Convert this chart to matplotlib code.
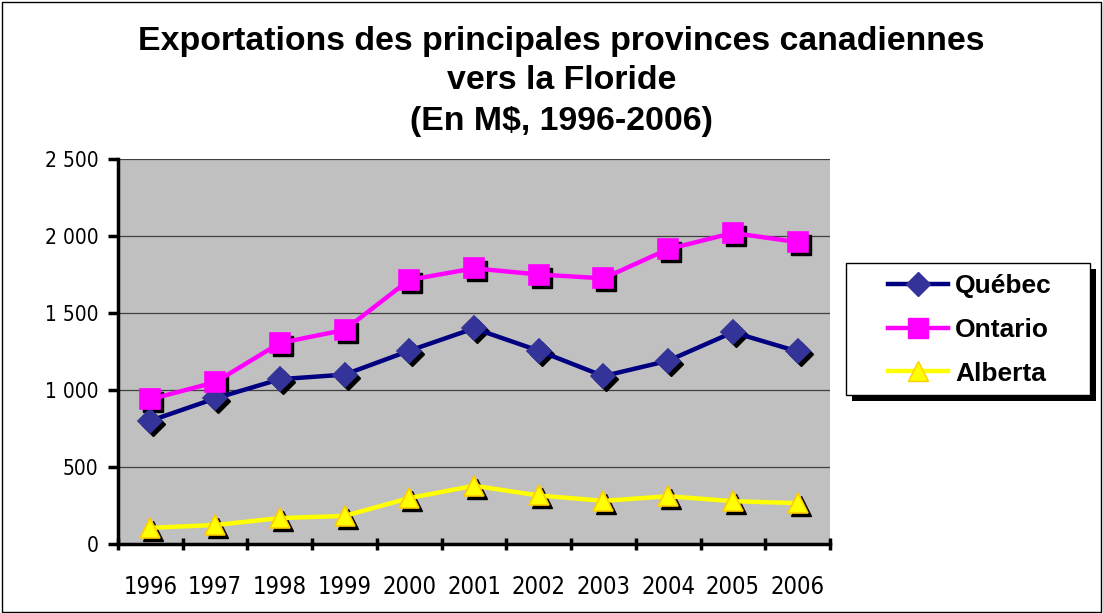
import numpy as np
import matplotlib
matplotlib.use("Agg")
import matplotlib.pyplot as plt
import matplotlib.transforms as mtransforms
from matplotlib.patches import Rectangle
from matplotlib.ticker import FuncFormatter

annees = ['1996', '1997', '1998', '1999', '2000', '2001', '2002', '2003', '2004', '2005', '2006']
quebec = [800, 945, 1070, 1100, 1255, 1400, 1255, 1090, 1190, 1375, 1250]
ontario = [940, 1050, 1305, 1390, 1715, 1790, 1750, 1725, 1915, 2020, 1960]
alberta = [105, 123, 168, 182, 298, 378, 315, 280, 310, 278, 265]
graduations = [0, 500, 1000, 1500, 2000, 2500]
titre = ['Exportations des principales provinces canadiennes', 'vers la Floride', '(En M$, 1996-2006)']

fig = plt.figure(figsize=(11.03, 6.13), dpi=100)
ax = fig.add_axes([0.107, 0.1126, 0.6455, 0.628])
ax.set_facecolor('#C0C0C0')

x = np.arange(len(annees))
ombre = mtransforms.offset_copy(ax.transData, fig=fig, x=3, y=-3, units='dots')

series = [
    ('Québec', quebec, '#000080', '#333399', '#333399', 'D', 12.5),
    ('Ontario', ontario, '#FF00FF', '#FF00FF', '#FF00FF', 's', 15),
    ('Alberta', alberta, '#FFFF00', '#FFFF00', '#FFCC00', '^', 14),
]

# ombres des marqueurs
for nom, vals, c_ligne, c_fond, c_bord, mk, ms in series:
    ax.plot(x, vals, linestyle='none', marker=mk, markersize=ms,
            markerfacecolor='black', markeredgecolor='black', transform=ombre, zorder=3)

for nom, vals, c_ligne, c_fond, c_bord, mk, ms in series:
    ax.plot(x, vals, color=c_ligne, linewidth=3.2, zorder=4)
    ax.plot(x, vals, linestyle='none', marker=mk, markersize=ms,
            markerfacecolor=c_fond, markeredgecolor=c_bord, markeredgewidth=1.2, zorder=5)

# cadre de la legende + ombre
fig.patches.append(Rectangle((852 / 1103, 1 - 401 / 613), 244 / 1103, 132 / 613,
                             transform=fig.transFigure, facecolor='black', edgecolor='none'))
fig.patches.append(Rectangle((846 / 1103, 1 - 395 / 613), 244 / 1103, 132 / 613,
                             transform=fig.transFigure, facecolor='white', edgecolor='black',
                             linewidth=1))

poignees = []
for nom, vals, c_ligne, c_fond, c_bord, mk, ms in series:
    h, = ax.plot([], [], color=c_ligne, linewidth=3.2, marker=mk, markersize=ms,
                 markerfacecolor=c_fond, markeredgecolor=c_bord, label=nom)
    poignees.append(h)

leg = fig.legend(handles=poignees, loc='upper left', bbox_to_anchor=(888 / 1103, 1 - 274 / 613),
                 frameon=False,
                 prop={'family': 'Liberation Sans', 'weight': 'bold', 'size': 19},
                 handlelength=2.27, labelspacing=0.75, borderpad=0, handletextpad=0.27,
                 borderaxespad=0)

ax.set_xlim(-0.5, 10.5)
ax.set_ylim(0, 2500)
ax.set_yticks(graduations)
ax.yaxis.set_major_formatter(FuncFormatter(lambda v, p: f'{int(v):,}'.replace(',', ' ')))
ax.grid(axis='y', color='#404040', linewidth=0.9)
ax.set_axisbelow(True)

ax.set_xticks(np.arange(-0.5, 11, 1))
ax.set_xticklabels([])
ax.set_xticks(x, minor=True)
ax.set_xticklabels(annees, minor=True, fontsize=17, family='DejaVu Sans', fontstretch='condensed')
ax.tick_params(axis='x', which='minor', length=0, pad=22)
ax.tick_params(axis='x', which='major', length=9, width=2.5, direction='inout')
ax.tick_params(axis='y', length=7, width=2.5, direction='out', labelsize=15, pad=7)
for lab in ax.get_yticklabels():
    lab.set_family('DejaVu Sans')
    lab.set_fontstretch('condensed')

for cote in ['top', 'right']:
    ax.spines[cote].set_visible(False)
for cote in ['left', 'bottom']:
    ax.spines[cote].set_linewidth(2.5)

for ligne, yb in zip(titre, [50, 89, 130]):
    fig.text(0.509, 1 - yb / 613, ligne, ha='center', va='baseline', fontsize=24.4,
             fontweight='bold', family='Liberation Sans')

fig.patches.append(Rectangle((0.002, 0.002), 0.996, 0.995, transform=fig.transFigure,
                             fill=False, edgecolor='black', linewidth=1))

fig.savefig('out.png', dpi=100)
